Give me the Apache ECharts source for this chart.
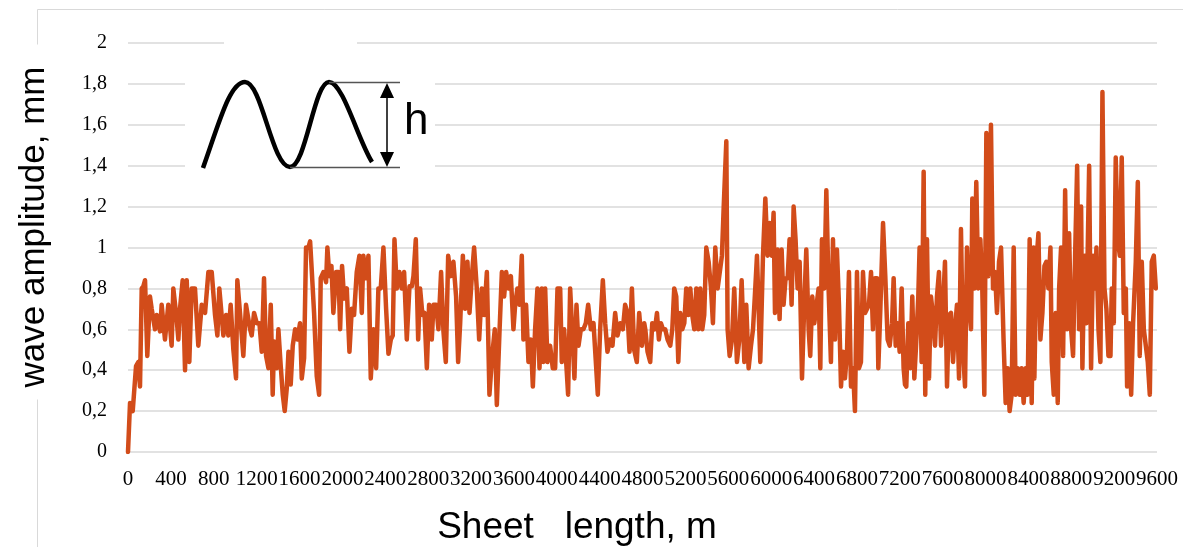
<!DOCTYPE html>
<html>
<head>
<meta charset="utf-8">
<script src="https://cdn.jsdelivr.net/npm/echarts@6/dist/echarts.min.js"></script>
<style>
html,body{margin:0;padding:0;background:#fff;}
#chart{width:1183px;height:547px;}
</style>
</head>
<body>
<div id="chart"></div>
<script>
// X tick labels (sheet length, m) and Y tick labels (wave amplitude, mm)
const xTickLabels = ['0','400','800','1200','1600','2000','2400','2800','3200','3600','4000','4400','4800','5200','5600','6000','6400','6800','7200','7600','8000','8400','8800','9200','9600'];
const yTickLabels = ['0','0,2','0,4','0,6','0,8','1','1,2','1,4','1,6','1,8','2'];

// Sheet length, m
const sheetLength = [
0,19,44,75,96,112,128,143,159,180,205,221,252,268,299,314,345,376,407,423,454,470,485,510,532,548,572,594,625,656,688,719,750,781,812,834,852,890,915,936,958,983,1008,1020,1045,1076,1101,1139,
1154,1176,1201,1226,1248,1269,1288,1310,1332,1350,1363,1388,1403,1425,1444,1462,1481,1497,1518,1537,1559,1580,1605,1621,1643,1661,1683,1699,1714,1736,1761,1783,1798,1823,1848,1860,1879,1898,1916,1941,1963,1979,1997,2016,2041,2066,2088,2109,2134,2159,2181,2196,2218,2243,2265,2290,2315,2336,2358,2383,
2408,2430,2452,2470,2486,2508,2532,2554,2576,2601,2626,2648,2663,2685,2707,2725,2747,2766,2788,2809,2834,2850,2875,2896,2921,2943,2965,2987,3012,3036,3061,3080,3099,3124,3145,3167,3186,3208,3229,3254,3276,3301,3323,3348,3372,3397,3422,3441,3466,3488,3509,3528,3550,3572,3596,
3612,3633,3652,3674,3689,3714,3736,3758,3777,3798,3820,3839,3861,3876,3892,3913,3938,3963,3985,4007,4032,4047,4069,4088,4106,4125,4144,4165,4184,4203,4225,4249,4271,4293,4318,4343,4361,4383,4405,4430,4452,4473,4498,4520,4545,4567,4592,4617,4638,4660,4679,4701,4722,4747,4769,4794,4816,
4826,4847,4872,4891,4916,4935,4953,4972,4991,5012,5034,5059,5078,5096,5115,5134,5152,5171,5190,5208,5227,5246,5264,5283,5302,5320,5339,5358,5376,5395,5417,5439,5457,5479,5501,5519,5541,5557,5582,5594,5613,5635,5656,5681,5703,5725,5750,5768,5790,5812,5831,5852,5868,5883,5899,5924,5946,5967,5986,6005,6023,6036,
6060,6079,6098,6116,6135,6154,6172,6191,6210,6228,6247,6266,6288,6309,6328,6350,6365,6384,6403,6421,6443,6459,6474,6496,6515,6536,6558,6577,6596,6614,6633,6652,6670,6689,6708,6726,6745,6764,6782,6801,6820,6838,6857,6876,6894,6913,6932,6950,6969,6988,7000,7019,7044,7065,7087,7106,7128,7143,7162,7180,7199,7218,7236,7249,
7261,7280,7298,7317,7336,7354,7373,7385,7404,7423,7438,7454,7473,7491,7510,7529,7547,7566,7585,7603,7622,7641,7659,7678,7697,7715,7734,7753,7771,7790,7809,7827,7846,7865,7877,7896,7914,7933,7952,7970,7989,8008,8026,8051,8070,8089,8107,8126,8145,8169,8188,8207,8225,8244,8263,8281,8300,8319,8337,8356,8375,8393,8412,8431,8449,
8456,8475,8494,8512,8531,8550,8568,8587,8606,8618,8637,8655,8674,8687,8705,8724,8743,8761,8780,8799,8817,8836,8855,8873,8892,8904,8923,8942,8967,8985,9004,9023,9035,9054,9072,9091,9110,9128,9147,9166,9178,9197,9215,9234,9253,9271,9290,9309,9321,9340,9359,9377,9402,9421,9439,9458,9477,9495,9514,9533,9551,9570,9589
];

// Wave amplitude, mm
const waveAmplitude = [
0,0.24,0.2,0.42,0.44,0.32,0.8,0.81,0.84,0.47,0.76,0.7,0.6,0.67,0.59,0.72,0.55,0.72,0.52,0.8,0.65,0.55,0.7,0.84,0.4,0.84,0.44,0.8,0.8,0.52,0.72,0.68,0.88,0.88,0.67,0.57,0.8,0.57,0.67,0.57,0.72,0.5,0.36,0.84,0.68,0.47,0.72,0.6,
0.57,0.68,0.63,0.63,0.49,0.85,0.47,0.41,0.72,0.28,0.54,0.41,0.6,0.42,0.28,0.2,0.31,0.49,0.33,0.52,0.6,0.55,0.63,0.36,0.46,1.0,1.0,1.03,0.89,0.68,0.37,0.28,0.85,0.88,0.83,1.0,0.86,0.91,0.68,0.88,0.88,0.6,0.91,0.75,0.8,0.49,0.7,0.67,0.88,0.96,0.68,0.96,0.85,0.96,0.36,0.6,0.41,0.8,0.8,1.0,
0.7,0.48,0.55,0.57,1.04,0.8,0.88,0.8,0.88,0.55,0.81,0.81,0.86,1.04,0.55,0.8,0.67,0.68,0.41,0.72,0.55,0.72,0.72,0.6,0.88,0.59,0.44,0.96,0.86,0.93,0.76,0.44,0.63,0.96,0.7,0.93,0.68,0.86,1.0,0.8,0.55,0.8,0.67,0.88,0.28,0.47,0.6,0.23,0.59,0.88,0.76,0.88,0.8,0.86,0.6,
0.72,0.8,0.72,0.96,0.55,0.72,0.44,0.55,0.32,0.6,0.8,0.41,0.8,0.44,0.8,0.44,0.52,0.41,0.41,0.8,0.8,0.44,0.6,0.44,0.28,0.8,0.6,0.36,0.72,0.52,0.6,0.6,0.63,0.72,0.6,0.63,0.63,0.28,0.6,0.84,0.63,0.49,0.55,0.52,0.68,0.57,0.63,0.6,0.72,0.68,0.49,0.8,0.5,0.44,0.68,0.52,0.63,
0.6,0.49,0.44,0.63,0.6,0.68,0.55,0.63,0.6,0.6,0.55,0.52,0.6,0.8,0.76,0.44,0.68,0.6,0.63,0.8,0.67,0.8,0.67,0.6,0.8,0.6,0.8,0.6,0.67,1.0,0.93,0.8,0.63,1.0,0.8,0.8,0.96,1.19,1.52,0.6,0.47,0.55,0.8,0.44,0.55,0.84,0.44,0.72,0.41,0.52,0.6,0.8,0.96,0.96,0.44,0.96,1.24,0.96,1.12,0.96,1.17,0.68,
0.99,0.65,0.99,0.72,0.85,0.85,1.04,0.72,1.2,1.04,0.8,0.93,0.36,0.72,0.99,0.6,0.47,0.76,0.63,0.63,0.8,0.41,1.04,0.8,1.28,0.8,0.44,1.04,0.55,0.99,0.72,0.32,0.49,0.36,0.49,0.88,0.32,0.41,0.2,0.88,0.41,0.44,0.88,0.68,0.68,0.72,0.88,0.6,0.85,0.85,0.41,0.7,1.12,0.86,0.55,0.52,0.63,0.85,0.52,0.63,0.49,0.8,0.41,0.33,
0.32,0.63,0.41,0.76,0.36,0.54,0.76,1.0,0.44,1.37,0.28,1.04,0.36,0.76,0.67,0.52,0.76,0.88,0.52,0.7,0.93,0.32,0.67,0.68,0.44,0.6,0.72,0.36,1.09,0.5,0.32,1.0,0.72,0.6,1.24,0.8,1.32,0.8,1.04,0.8,0.28,1.56,0.86,1.6,0.8,0.88,0.68,0.93,1.0,0.54,0.24,0.41,0.2,0.28,1.0,0.28,0.41,0.28,0.41,0.24,0.41,0.28,1.04,0.24,1.0,
0.36,0.93,1.07,0.55,0.68,0.91,0.93,0.8,1.0,0.44,0.28,0.68,0.24,0.8,1.0,0.47,1.28,0.6,1.07,0.6,0.47,0.96,1.4,0.6,1.2,0.41,0.96,0.63,1.4,0.41,0.96,0.8,1.0,0.6,0.44,1.76,0.8,0.7,0.47,0.47,0.8,0.63,1.44,1.04,0.96,1.44,0.68,0.8,0.32,0.63,0.28,0.63,0.93,1.32,0.47,0.93,0.6,0.6,0.44,0.28,0.93,0.96,0.8
];

const xTitle = 'Sheet   length, m';
const yTitle = 'wave amplitude, mm';

const chart = echarts.init(document.getElementById('chart'), null, {renderer: 'canvas'});
const seriesData = sheetLength.map((x, i) => [x, waveAmplitude[i]]);

const curveStyle = {fill: 'none', stroke: '#000', lineWidth: 4.5};

const option = {
  animation: false,
  backgroundColor: '#ffffff',
  grid: {left: 128, right: 26, top: 43, bottom: 95, containLabel: false},
  xAxis: {
    type: 'value', min: 0, max: 9600, interval: 400,
    axisLine: {show: false}, axisTick: {show: false},
    splitLine: {show: false},
    axisLabel: {
      margin: 17, color: '#000', fontFamily: 'Liberation Serif', fontSize: 21,
      hideOverlap: false, showMinLabel: true, showMaxLabel: true,
      formatter: v => xTickLabels[Math.round(v / 400)]
    }
  },
  yAxis: {
    type: 'value', min: 0, max: 2, interval: 0.2,
    axisLine: {show: false}, axisTick: {show: false},
    splitLine: {show: true, lineStyle: {color: '#d9d9d9', width: 1.5}},
    axisLabel: {
      margin: 21, color: '#000', fontFamily: 'Liberation Serif', fontSize: 20,
      showMinLabel: true, showMaxLabel: true,
      formatter: v => yTickLabels[Math.round(v / 0.2)]
    }
  },
  series: [{
    type: 'line',
    data: seriesData,
    showSymbol: false,
    symbol: 'none',
    smooth: false,
    lineStyle: {color: '#D24C1A', width: 4.5, join: 'round', cap: 'round'},
    z: 3
  }],
  graphic: [
    {type: 'rect', z: 1, shape: {x: 37.5, y: 9.5, width: 1200, height: 600}, style: {fill: 'none', stroke: '#d9d9d9', lineWidth: 1}},
    {type: 'text', z: 10, x: 34, y: 222, rotation: Math.PI / 2,
      style: {text: yTitle, font: '35px "Liberation Sans", Arial, sans-serif', fill: '#000', align: 'center', verticalAlign: 'middle',
        backgroundColor: '#fff', padding: [0, 22, 0, 12]}},
    {type: 'text', z: 10, x: 577, y: 528,
      style: {text: xTitle, font: '37px "Liberation Sans", Arial, sans-serif', fill: '#000', align: 'center', verticalAlign: 'middle'}},
    // inset illustration
    {type: 'rect', z: 10, shape: {x: 185, y: 55, width: 250, height: 124}, style: {fill: '#fff'}},
    {type: 'rect', z: 10, shape: {x: 224, y: 30, width: 133, height: 26}, style: {fill: '#fff'}},
    {type: 'bezierCurve', z: 11, shape: {x1: 203, y1: 168, cpx1: 220, cpy1: 120, cpx2: 230, cpy2: 82, x2: 245, y2: 82}, style: curveStyle},
    {type: 'bezierCurve', z: 11, shape: {x1: 245, y1: 82, cpx1: 262, cpy1: 82, cpx2: 272, cpy2: 167, x2: 290, y2: 167}, style: curveStyle},
    {type: 'bezierCurve', z: 11, shape: {x1: 290, y1: 167, cpx1: 306, cpy1: 167, cpx2: 314, cpy2: 82, x2: 329, y2: 82}, style: curveStyle},
    {type: 'bezierCurve', z: 11, shape: {x1: 329, y1: 82, cpx1: 343, cpy1: 82, cpx2: 358, cpy2: 140, x2: 372, y2: 162}, style: curveStyle},
    {type: 'line', z: 11, shape: {x1: 329, y1: 82.5, x2: 400, y2: 82.5}, style: {stroke: '#555', lineWidth: 1.5}},
    {type: 'line', z: 11, shape: {x1: 290, y1: 167.5, x2: 400, y2: 167.5}, style: {stroke: '#555', lineWidth: 1.5}},
    {type: 'line', z: 11, shape: {x1: 387, y1: 92, x2: 387, y2: 158}, style: {stroke: '#000', lineWidth: 1.5}},
    {type: 'polygon', z: 11, shape: {points: [[387, 83], [380, 98], [394, 98]]}, style: {fill: '#000'}},
    {type: 'polygon', z: 11, shape: {points: [[387, 167], [380, 152], [394, 152]]}, style: {fill: '#000'}},
    {type: 'text', z: 11, x: 404, y: 122,
      style: {text: 'h', font: '44px "Liberation Sans", Arial, sans-serif', fill: '#000', align: 'left', verticalAlign: 'middle'}}
  ]
};
chart.setOption(option);
</script>
</body>
</html>
